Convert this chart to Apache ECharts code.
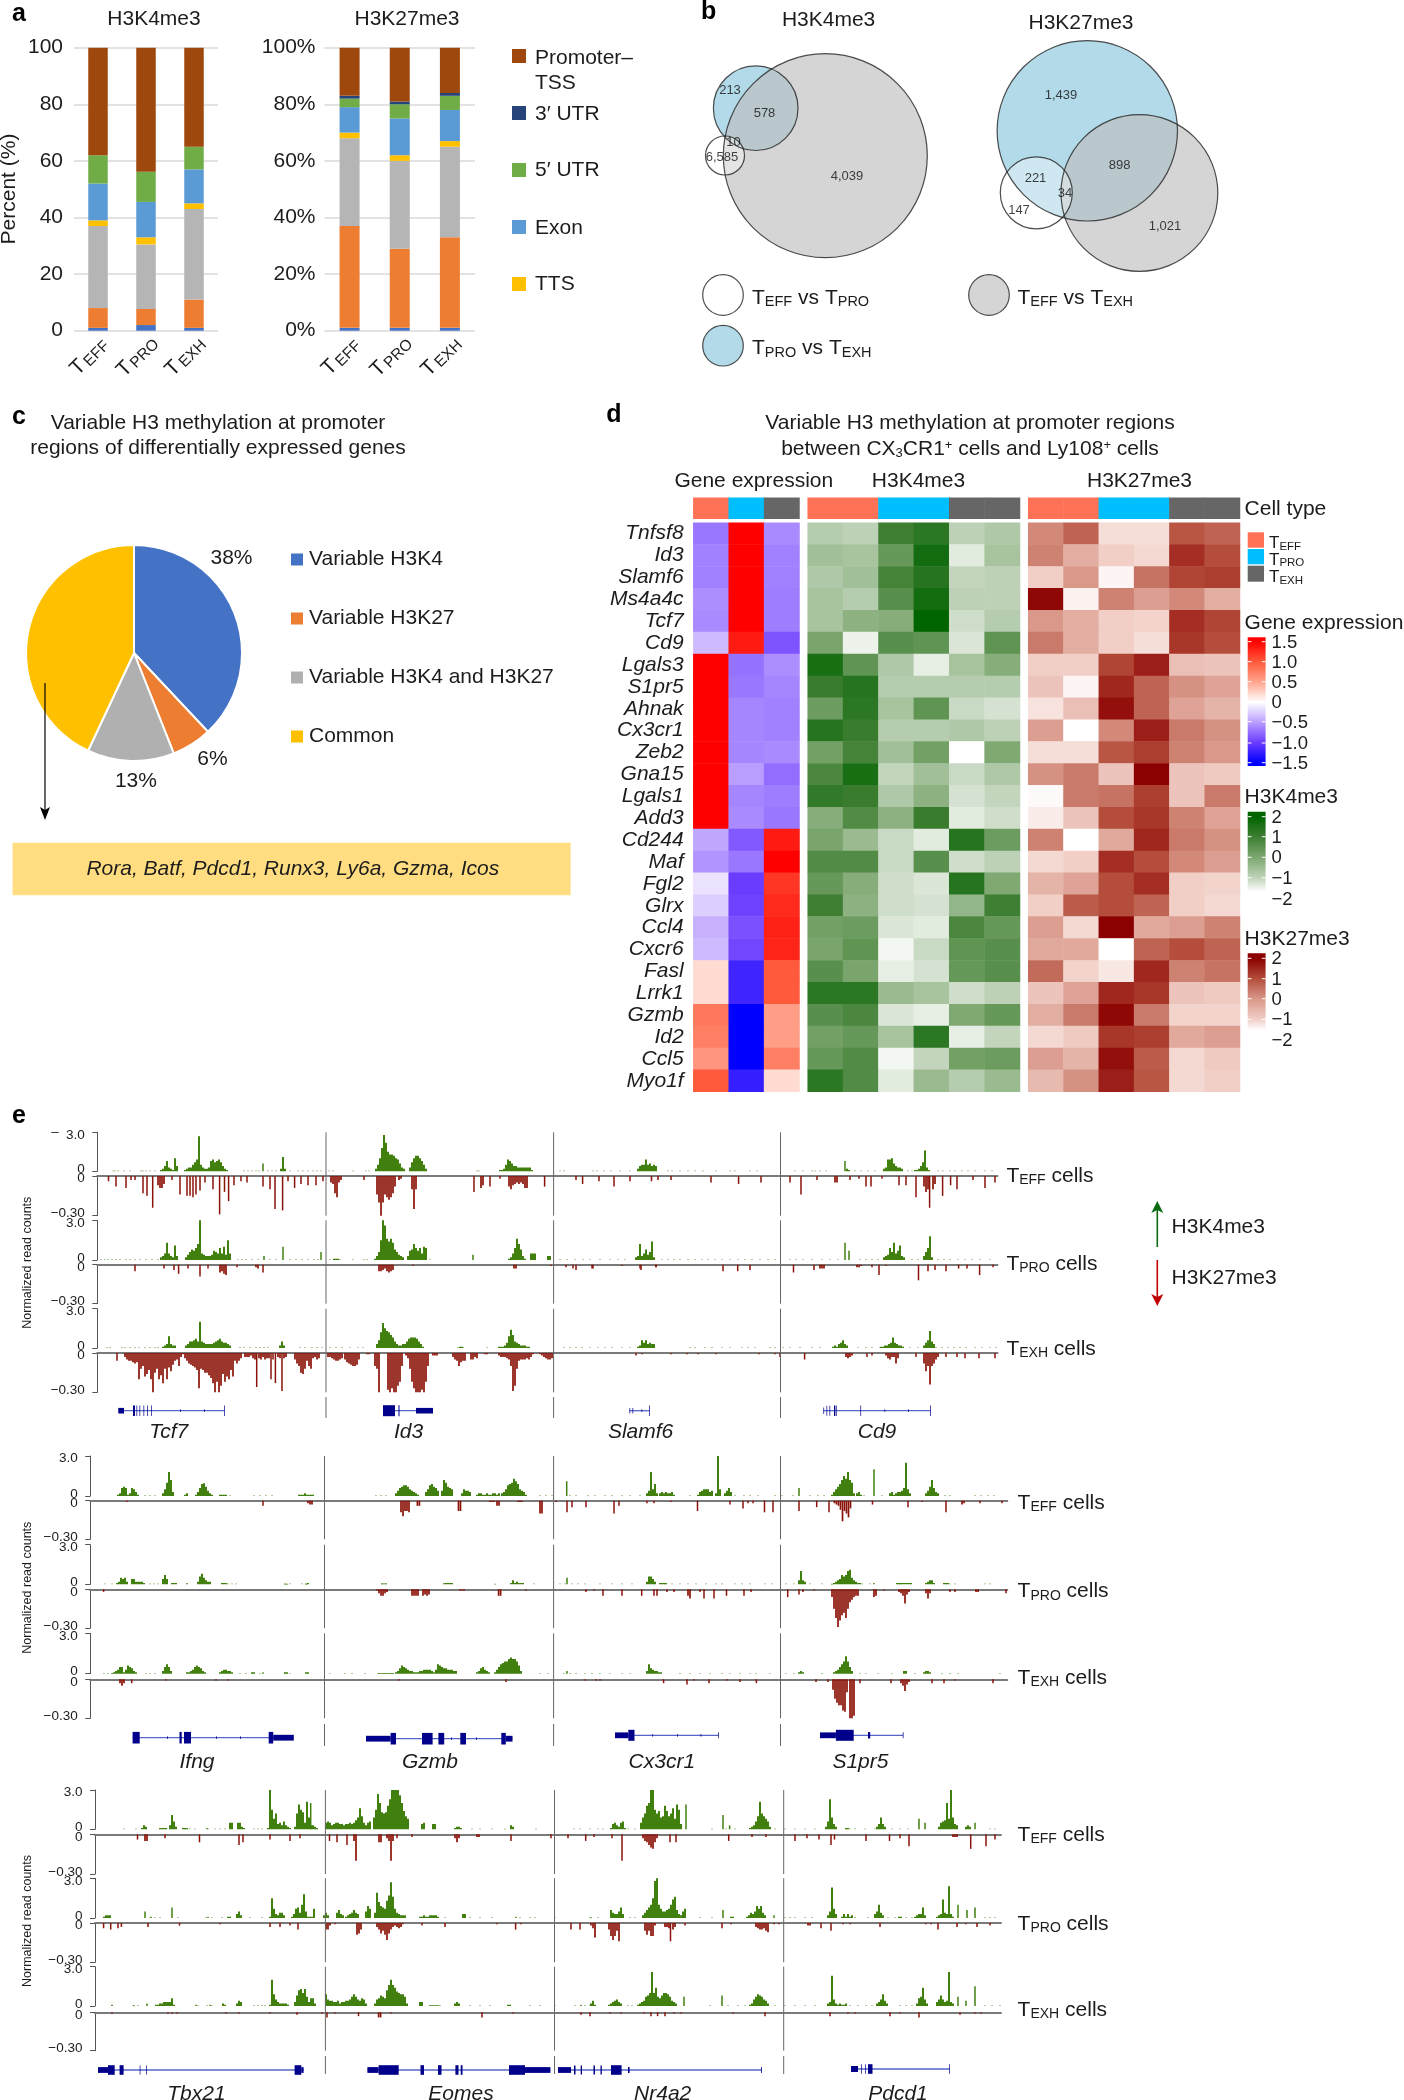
<!DOCTYPE html>
<html><head><meta charset="utf-8">
<style>html,body{margin:0;padding:0;background:#fff}#c{width:1404px;height:2100px}</style>
<script src="https://cdn.jsdelivr.net/npm/echarts@6/dist/echarts.min.js"></script>
</head><body><div id="c"></div>
<script>
// ---------- panel a ----------
const cellCats=['{t|T}{s|EFF}','{t|T}{s|PRO}','{t|T}{s|EXH}'];
const annNames=['Other A','Other B','Other C','TTS','Exon','5′ UTR','3′ UTR','Promoter–TSS'];
const annColors=['#4472C4','#ED7D31','#B5B5B5','#FFC000','#5B9BD5','#70AD47','#264478','#9E480E'];
const k4Other1=[1,2,1], k4Other2=[7,5.7,10], k4Other3=[29,22.8,32], k4Tts=[2,2.5,2], k4Exon=[13,12.5,12], k4Utr5=[10,10.7,8], k4Utr3=[0,0,0], k4Prom=[38,43.8,35];
const k27Other1=[1,1,1], k27Other2=[36,28,32], k27Other3=[31,31,32], k27Tts=[2,2,2], k27Exon=[9,13,11], k27Utr5=[3,5,5], k27Utr3=[1,1,1], k27Prom=[17,19,16];
const annLegend=[['Promoter–\nTSS','#9E480E'],['3′ UTR','#264478'],['5′ UTR','#70AD47'],['Exon','#5B9BD5'],['TTS','#FFC000']];
// ---------- panel b ----------
const vennBlue=[[755.7,108.2,42.3],[1087.3,130.8,90.2],[723,345.7,20.3]];
const vennGrey=[[825.3,155.7,102],[1139.4,193,78.4],[989,295,20.3]];
const vennWhite=[[725,155.5,19.5],[1036.3,192.8,36],[723,295,20.3]];
const vennCounts=[[730,90,'213'],[764.5,113.7,'578'],[733.5,142.7,'10'],[722,157.3,'6,585'],[847,176.7,'4,039'],[1061,95.7,'1,439'],[1119.6,165.3,'898'],[1035.5,178,'221'],[1065,193.3,'34'],[1019,210,'147'],[1165,226.3,'1,021']];
// ---------- panel c ----------
const pieNames=['Variable H3K4','Variable H3K27','Variable H3K4 and H3K27','Common'];
const pieValues=[38,6,13,43];
const pieColors=['#4472C4','#ED7D31','#B0B0B0','#FFC000'];
const commonGenes='Rora, Batf, Pdcd1, Runx3, Ly6a, Gzma, Icos';
// ---------- panel d ----------
const geneRows=['Tnfsf8','Id3','Slamf6','Ms4a4c','Tcf7','Cd9','Lgals3','S1pr5','Ahnak','Cx3cr1','Zeb2','Gna15','Lgals1','Add3','Cd244','Maf','Fgl2','Glrx','Ccl4','Cxcr6','Fasl','Lrrk1','Gzmb','Id2','Ccl5','Myo1f'];
const exprMatrix=[[-.7,1.5,-.6],[-.65,1.5,-.65],[-.65,1.5,-.65],[-.58,1.5,-.67],[-.6,1.5,-.67],[-.35,1.35,-.88],[1.5,-.72,-.58],[1.5,-.7,-.62],[1.5,-.62,-.65],[1.5,-.62,-.65],[1.5,-.62,-.6],[1.5,-.5,-.75],[1.5,-.62,-.67],[1.5,-.6,-.7],[-.45,-.85,1.35],[-.55,-.7,1.5],[-.15,-1,1.2],[-.25,-.97,1.27],[-.4,-.9,1.32],[-.35,-.95,1.3],[.2,-1.2,1],[.2,-1.2,1],[.8,-1.5,.55],[.75,-1.5,.55],[.6,-1.5,.75],[1,-1.25,.2]];
const k4Matrix=[[-.8,-.9,1,1.3,-.9,-.7],[-.5,-.6,.4,1.7,-1.5,-.6],[-.7,-.5,.9,1.4,-1,-.9],[-.6,-.8,.6,1.7,-.9,-.9],[-.6,-.2,-.1,2,-1.2,-.8],[.1,-1.7,.6,.5,-1.4,.5],[1.6,.5,-.7,-1.6,-.6,-.1],[1.1,1.4,-.8,-.8,-.8,-.8],[.3,1.3,-.6,.5,-1.1,-1.3],[1.4,1.1,-.8,-.8,-.7,-.9],[.2,.9,-.5,.2,-2,0],[.8,1.6,-1,-.5,-1.1,-.7],[1.2,1.1,-.7,-.2,-1.3,-1],[-.1,.7,-.2,1.1,-1.5,-1.2],[.1,-.4,-1.1,-1.5,1.4,.3],[.7,.7,-1.1,.6,-1.2,-.9],[.4,-.1,-1.2,-1.4,1.4,0],[1,-.2,-1.2,-1.3,-.3,1],[.2,.3,-1.4,-1.5,.8,.4],[.1,.5,-1.8,-1.1,.5,.6],[.6,.1,-1.6,-1.3,.4,.6],[1.3,1.3,-.4,-.6,-1.2,-.9],[.6,.8,-1.4,-1.6,0,.4],[.2,.4,-.6,1.3,-1.6,-1],[.4,.7,-1.8,-1,.2,.3],[1.3,.7,-1.5,-.4,-.8,-.4]];
const k27Matrix=[[.2,.7,-1.3,-1.3,.9,.7],[.3,-.4,-1,-1.2,1.4,1],[-1,0,-1.8,.5,1.1,1.2],[1.9,-1.7,.3,-.1,.2,-.4],[0,-.4,-1,-1.1,1.4,1.1],[.4,-.4,-1,-1.3,1.3,1],[-1,-1,1.1,1.6,-.7,-.8],[-.8,-1.8,1.5,.7,.1,-.2],[-1.4,-.7,1.8,.7,-.2,-.5],[-.1,-2,.2,1.6,.4,.1],[-1.3,-1.3,.9,1.2,.3,0],[.1,.4,-.8,2,-.8,-.9],[-1.9,.4,.5,1.2,-.8,.4],[-1.6,-.8,1,1.3,.3,-.2],[.3,-2,-.3,1.5,.4,.1],[-1.2,-1,1.4,1,.2,-.1],[-.5,-.2,1,1.4,-1,-1.1],[-1,.8,1,.7,-1,-1.2],[-.1,-1.2,2,-.3,-.1,.3],[-.3,-.3,-2,.7,1,.7],[.6,-1.1,-1.5,1.5,.3,.5],[-.8,-.2,1.5,1.3,-.8,-.9],[-.4,.4,1.9,.4,-1.1,-1.1],[-1.2,-.9,1.3,1.2,-.3,-.1],[-.1,-.5,1.8,.8,-1.2,-.9],[-.6,.1,1.6,.9,-1.2,-1]];
const cellAnno3=[0,1,2], cellAnno6=[0,0,1,1,2,2];
const cellTypeColors=['#FF7256','#00BFFF','#666666'];
const geRamp=['#0000ff','#6a3cff','#b99eff','#ffffff','#ffa48e','#ff5a3c','#ff0000'];
const k4Ramp=['#ffffff','#c3d6bd','#7fa872','#3f7f33','#006400'];
const k27Ramp=['#ffffff','#f1cfc7','#d9988a','#b44d3b','#8b0000'];
const geTicks=['1.5','1.0','0.5','0','−0.5','−1.0','−1.5'];
const k4Ticks=['2','1','0','−1','−2'];
const k27Ticks=['2','1','0','−1','−2'];
// ---------- panel e: each run is [start position, value, value, ...] ----------
const b1EffK4=[[161,.1,.2,.4,.8,.3,.2,.1],[175,1,.4],[185,.1,.2,.3,.3,.5,.7,.9,2.7,.5,.3,.2,.2,.3,.8,.9,.7,.8,.9,.7,.4,.2,.1],[263,.6],[281,.2,1.1,.2],[376,.2,.5,1,1.8,2.8,2.2,1.5,1.3,1.3,1.2,1,.9,.6,.3,.2],[410,.3,.7,1,1.2,1.2,1,.8,.5,.2],[500,.1,.1,.2,.5,.9,.8,.6,.4,.4,.3,.3,.3,.3,.3,.3,.3,.1],[638,.2,.4,.5,.5,.9,.5,.6,.4,.5,.4],[845,.8],[847,.2,.1],[884,.2,.3,.9,.9,1,.6,.4,.3,.3,.2],[915,.1,.1,.2,.4,.7,1.6,.3,.1]];
const b1EffK27=[[108.5,-.04],[116,-.08],[126,-.09],[131,-.03],[135,-.03],[143,-.13],[147,-.15],[152.7,-.24],[158,-.07,-.09,-.09,-.06],[172,-.03],[180,-.14],[187,-.15],[190,-.15],[193,-.16],[196,-.14],[200,-.11],[205,-.05],[213,-.1],[219.6,-.29],[224.5,-.12],[228.6,-.19],[234,-.07],[241,-.04],[247,-.05],[263,-.08],[270,-.1],[275,-.25],[282.6,-.26],[288,-.04],[294.6,-.09],[301,-.06],[308,-.07],[316,-.07],[323,-.04],[331,-.05,-.06,-.13,-.16,-.05,-.03],[364,-.03],[377,-.14,-.2,-.3,-.2,-.14,-.16,-.18,-.16,-.13,-.08],[399,-.03,-.02],[412,-.1,-.25,-.1],[474,-.12],[481,-.09,-.07],[490,-.08],[500,-.02],[509,-.08,-.1,-.07,-.06,-.05,-.06,-.05,-.06,-.09,-.09],[544.6,-.08],[576,-.03],[582.6,-.06],[599,-.04],[614,-.08],[630,-.04],[651.5,-.04],[658,-.03],[671,-.03],[711,-.05],[738.6,-.06],[761,-.05],[790,-.05],[801,-.14],[817,-.03],[835,-.05,-.05],[850,-.03],[859,-.02],[866,-.08],[871,-.08],[882,-.02],[899,-.07],[906,-.07],[916,-.16],[924,-.08,-.12,-.1],[929.6,-.24],[933,-.1,-.06],[942.6,-.15],[950.6,-.07],[957,-.1],[973,-.03],[985,-.09],[995,-.05]];
const b1ProK4=[[161,.2,.3,.5,1.3,.5,.3],[173,.2,1.1,.3],[186,.2,.4,.6,.8,.7,.9,1.2,3,.5,.4,.3,.3,.3,.4,.7,.6,.5,.9,.5,1,.4,1.5,.5],[264,.3],[283,1],[321,.6],[334,.1,.1,.1],[375,.1,.3,.6,1.5,3,2.6,1.6,1.4,1.6,1.3,.8,.6,.4,.3,.2],[408,.3,.7,.8,1.2,.9,.7,.9,.5,1,.9],[473,.4],[509,.1,.2,.5,.9,1.6,1.2,.8,.3,.1],[531,.5,.5,.5],[548,.3,.3],[636,.2,.3,1.2,.3,.5,.8,.4,.6,1.4,.2],[845,1.3],[849,.7],[884,.2,.3,.4,.9,.6,1.3,.5,.7,1.1,.3,.2],[924,.3,.6,.9,1.8,.2]];
const b1ProK27=[[135,-.05],[164,-.03],[174,-.04],[178.6,-.07],[188,-.03],[200,-.09],[208,-.03],[220,-.06,-.05,-.07,-.08],[237,-.02],[256,-.02,-.03],[263,-.06],[379,-.05,-.05,-.04,-.03,-.05,-.06,-.05,-.04],[413,-.01],[514,-.03,-.03],[551,-.01],[566,-.02],[576,-.04],[593,-.03],[622,-.01],[641,-.04],[656,-.02],[573,-.03],[592,-.03],[640,-.03],[656,-.02],[723,-.05],[737.7,-.05],[750,-.04],[793.5,-.06],[814,-.04],[820,-.03,-.03,-.03],[857,-.02,-.02,-.01],[872,-.02],[879,-.08],[886,-.01],[918.5,-.12],[928,-.05],[935,-.04],[946,-.05],[958.6,-.03],[967,-.03],[979.6,-.08],[993,-.02]];
const b1ExhK4=[[163,.1,.2,.3,.9,.3,.2,.2],[186,.2,.3,.5,.5,.6,.7,.5,2,.5,.4,.3,.3,.3,.3,.4,.5,.6,.7,.5,.4,.4,.3,.2],[280,.2,.5,.2],[377,.3,.6,1.2,1.9,1.5,1.3,1.2,1,.8,.5,.3,.2,.2,.3,.3,.5,.7,.8,.8,.8,.7,.5,.3,.1],[460,.1,.1],[499,.1,.1,.1,.2,.4,.9,1.4,1,.5,.4,.3,.2,.2,.2,.1,.1],[638,.1,.2,.6,.4,.6,.3,.4,.3,.3],[833,.1,.2,.1,.3,.4,.6,.3,.2],[881,.1,.1,.2,.2,.3,.4,.8,.4,.3,.2,.2,.1],[924,.2,.4,.6,1.3,.5,.3]];
const b1ExhK27=[[117,-.06],[125,-.03,-.05,-.06,-.06,-.07,-.08,-.07,-.2,-.12,-.1,-.18,-.16,-.13,-.2,-.3,-.15,-.12,-.2,-.17,-.23,-.12,-.2,-.11,-.14,-.09,-.06,-.05,-.1,-.03,-.01,-.04,-.06,-.08,-.09,-.1,-.11,-.13,-.27,-.12,-.13,-.15,-.15,-.17,-.19,-.23,-.3,-.22,-.3,-.25,-.16,-.22,-.18,-.2,-.13,-.18,-.06,-.08,-.06,-.04],[245,-.03,-.03,-.03,-.02,-.04,-.05],[256.7,-.26],[259,-.04,-.05,-.03,-.05,-.04,-.04],[271,-.2],[273,-.05],[275.4,-.23],[278,-.03,-.04],[282,-.29],[284,-.04,-.03],[295,-.05,-.08,-.1,-.15,-.16,-.12,-.06,-.1,-.12,-.04,-.03,-.05,-.04],[328,-.03,-.03,-.04,-.05,-.06,-.06,-.05,-.04],[345,-.05,-.07,-.08,-.09,-.1,-.1,-.09,-.05],[367,-.01,-.01],[375,-.1,-.12,-.3],[388,-.28,-.3,-.27,-.3,-.3,-.25,-.22,-.1],[406,-.02,-.04,-.12,-.22,-.27,-.3,-.3,-.3,-.28,-.3,-.22,-.1],[433,-.02,-.02,-.02],[453,-.03,-.05,-.06,-.1,-.07,-.06,-.06],[471,-.05,-.05,-.03,-.04],[485,-.01,-.01],[499,-.02,-.03,-.03,-.03,-.04,-.05,-.1,-.29,-.25,-.12,-.06,-.05,-.05,-.05,-.04,-.05,-.03,-.01],[540,-.01,-.02,-.03,-.04,-.05,-.05,-.04],[636,-.02],[642,-.01],[671,-.01],[687,-.01],[698,-.01],[716,-.01],[759,-.01],[775,-.01],[780,-.03],[804.6,-.05],[846,-.03,-.04,-.03,-.02],[867,-.03],[872,-.02],[886,-.02,-.04,-.05,-.03,-.03,-.08,-.04],[916,-.03],[924,-.08,-.14,-.1,-.24,-.1,-.08,-.05,-.03],[946,-.03],[957,-.03],[965,-.04],[979,-.04],[995,-.04]];
const b2EffK4=[[118,.1,.2,.6,.7,.6,.1,.2,.6,.5,.3,.1],[163,.2,.5,1,1.8,1.2,.3],[185,.1,.2],[196,.1,.3,.6,.9,.95,.7,.4,.2,.1],[220,.1,.1,.1,.1],[299,.1,.1,.1,.2,.1,.1,.1,.1],[396,.2,.4,.6,.7,.8,.8,.7,.5,.4,.3,.2,.1],[426,.3,.5,.8,.9,.7,.6,.4],[442,.4,1.2,1,.7,.6,.5],[462,.2,.5,.4,.4,.3],[477,.1,.2,.2,.1,.1,.2,.1,.1,.2,.2,.1,.2],[502,.2,.3,.5,.8,.9,1,1.3,1.1,.9,.5,.4,.3,.1],[566.7,1.1],[647,.2,.4,1.8,.5,.9,.2],[660,.2,.3,.2,.3,.2,.2,.3,.1],[698,.1,.3,.4,.5,.5,.5,.3,.4],[716,.2,3,.5],[725,.2,.4,.6,.3],[799,.6],[832,.1,.3,.5,.7,.9,1.2,1.5,1.3,1.8,1.2,1,.2],[857,.2,.3,.1],[874,2],[890,.2,.3,.1,.2,.3,.3,.4,.6,2.5,.5,.2],[926,.2,.4,.7,1.2,.6,.3,.2]];
const b2EffK27=[[127,-.01],[263,-.04],[308,-.02,-.03,-.03],[401,-.09,-.12,-.08,-.08,-.09],[417.4,-.04,-.04],[458.5,-.08,-.08],[490,-.01,-.01,-.01],[497,-.04,-.04],[518,-.01,-.01,-.01],[540,-.1,-.1],[556,-.01],[567,-.09],[572,-.05],[586,-.05],[614,-.1],[619,-.04],[647,-.02],[654,-.02],[671,-.01],[697.5,-.08],[730,-.03],[743,-.06],[748,-.02],[753,-.02],[764.5,-.09],[773,-.09],[799,-.08],[816.7,-.05],[829,-.09],[834.5,-.02,-.03,-.04,-.07,-.16,-.08,-.1,-.13,-.06],[872.5,-.03],[908,-.05],[922,-.01],[946,-.09],[962,-.03,-.02],[980,-.02],[1002,-.02]];
const b2ProK4=[[117,.1,.2,.5,.4,.5,.2],[132,.4,.4,.2,.2,.2,.2,.1],[163,.4,.7,.4],[172,.1,.1,.1],[187,.1],[198,.2,.6,.8,.5,.3,.2,.2],[222,.1,.1,.1],[285,.05,.05],[306,.05,.1],[382,.06,.06,.06],[444,.08,.1,.1,.1,.1],[495,.05],[511,.1,.3,.1,.2,.1,.1,.1],[567,.5],[647,.2,.6,.6,.4,.2],[660,.1,.1,.1,.1],[799,.3,1,.3,.2],[832,.05,.1,.2,.3,.4,.7,.6,.7,1,1.1,.5,.3,.2,.1,.1],[874,.1],[897,.1,.1,.1,.1,.1,.1,.1,.1],[926,.1,.2,.3,.3,.1],[944,.1,.1,.1]];
const b2ProK27=[[103.6,-.02],[377,-.01,-.03,-.05,-.05,-.03,-.02],[412,-.05,-.05,-.05,-.05],[423,-.05,-.04,-.05,-.04],[460,-.01,-.01,-.01],[498.6,-.05,-.05],[526,-.01],[586,-.02],[594,-.01],[603,-.05],[622,-.05],[641.7,-.05],[654,-.05],[657,-.05],[667,-.02],[674,-.02],[688,-.05,-.07],[700,-.02],[704,-.07],[714,-.07],[726.5,-.05],[744,-.05],[751,-.02],[787.7,-.06],[799,-.04],[803,-.02],[814,-.01],[832,-.06,-.15,-.22,-.29,-.24,-.2,-.18,-.22,-.15,-.1,-.08,-.06,-.05,-.05],[874,-.06,-.05],[884,-.01],[899,-.02,-.03,-.05,-.11,-.04,-.02],[926,-.03,-.07,-.03],[950,-.02],[955,-.02],[976,-.02,-.02],[1006,-.03]];
const b2ExhK4=[[112,.05,.1,.2,.3,.5,.5,.1,.3,.6,.5,.4,.2,.1],[163,.2,.5,.7,.5,.2],[187,.1,.1,.2,.3,.5,.6,.5,.4,.2,.1],[220,.1,.2,.3,.3,.2,.2,.1],[252,.1,.1],[263,.1],[285,.1,.1],[306,.1,.1],[379,.06,.06,.06,.06,.06,.06,.06,.06],[396,.1,.2,.4,.6,.5,.4,.3,.2,.2,.1,.1,.1,.2,.2,.3,.3,.3,.3,.2,.1,.3,.7,.6,.5,.4,.4,.3,.3,.3,.2,.2],[477,.1,.2,.4,.5,.3,.2,.1],[495,.1,.3,.5,.7,.8,.9,.9,1.1,1.2,1.1,1.1,.9,.6,.2],[567,.2],[647,.2,.7,.4,.3,.2,.2,.1,.1],[799,.1,.2,.1],[834,.1,.2,.3,.5,.7,.9,1.3,.9,.5,.2],[904,.2,.2],[924,.1,.2,.2,.1]];
const b2ExhK27=[[120,-.03,-.05,-.03],[131.7,-.03],[166,-.01],[216,-.01],[228,-.01],[399,-.01],[506,-.02],[585,-.01],[596,-.01],[600,-.01],[663.6,-.03],[687,-.04],[694,-.01],[709,-.03],[727,-.01],[740,-.02],[756.4,-.03],[816,-.02],[828,-.02],[833,-.08,-.15,-.18,-.2,-.2,-.24,-.25,-.1],[850,-.3,-.3,-.28],[860,-.03],[891,-.03],[901,-.03,-.05,-.09,-.04,-.02],[932,-.03],[944,-.03],[955,-.01],[993,-.03]];
const b3EffK4=[[142,.1,.3,.2],[160,.1,.1,.1,.1],[170,.3,1.1,.6,.2],[183,.1,.1,.1],[207,.1],[230,.5,.5],[238,.5,.5,.2,.1],[268,.1,3,1.5,.8,1.2,.4,.5,.3,.6,.3,.2,.1],[295,.2,1.2,1.9,1.5,1.3,.5,2.1,.9,.3,.3,.2,.1],[310.7,2],[326,.5,.6,.5,.3,.4,.5,.5,.4,.4,.3,.4,.4,.5,.4,.5,.7,.9,1.6,1,.5,.3,.5,.6],[374,.9,1.5,2.7,2,1.3,1.2,1.3,1.8,2.3,3,3,3,3,2.6,2,1.4,1,.8],[422,.4,.5],[433,.4,.4],[455,.1,.2,.2,.1],[511,.3,.2],[611,.1,.4,.5,.3,.2,.5,.6,.1],[641,.5,.9,1.2,1.8,2,3,3,1.5,1.2,1.4,.9,1,1.8,1.4,1,1.2,1.6,.8,1.9,1.5,.4],[686,1.9],[723,1.1],[729.6,.3],[750,.1,.2,.3,.6,1,2.1,1.2,1,.8,.6,.2],[826,.2,.6,2.3,.9,.4,.2],[846,.1,.1],[877,.2,.4,.9,.4,.2],[919,.8],[925,.5],[939,.2,.5,.6,.7,2,.8,3,.9,.4,.3],[966,.2,.3,.2],[975,.5]];
const b3EffK27=[[137.5,-.04],[145,-.05,-.05],[165,-.03],[199.5,-.06],[239,-.08],[243,-.06],[270,-.04],[290,-.05],[300,-.03],[329.5,-.05],[337,-.06],[347,-.08],[354,-.05,-.2],[379,-.06,-.06],[387,-.03,-.05,-.2,-.05],[397,-.03],[412,-.02],[455,-.03,-.06,-.03],[477,-.02,-.02],[511,-.05],[551,-.03],[568,-.03],[585.7,-.05],[594,-.02],[612,-.03],[622,-.2],[643,-.03,-.05,-.06,-.08,-.1,-.11,-.06,-.03],[670,-.06],[676,-.06],[728.7,-.05],[752,-.02],[766,-.02],[795,-.05],[807,-.03],[819,-.04],[831,-.08],[834.5,-.04],[866,-.05],[889.5,-.05],[900,-.03],[909,-.09],[953,-.02,-.02,-.02],[970.7,-.11],[986,-.09],[995,-.04]];
const b3ProK4=[[104,.1,.2,.2,.2],[145,.5],[151,.1],[172,.8],[208,.1],[228,.1,.1],[237,.3,.5,.2],[270,.1,1.5,.7,.3,.2,.4,.4,.2],[292,.1,.3,.7,.8,.4,1,1.8,.5,.1,.1,.1,.7],[324,.2,.4,.2],[337,.4,.6,.3,.2],[346,.1,.2,.3,.4,.6,.4,.3],[366,.5,.9,.7],[375,.4,1.9,1.2,.9,.8,.7,1.3,1.7,2.7,1.6,.7,.4,.3,.2,.2,.2],[420,.1,.1,.2,.1,.1,.2,.2,.2,.2,.1],[463,.3,.3],[516,.1],[591,.05],[611,.6,.4,.3,.3,.5,.8,.3],[643,.2,.4,.6,.8,1,1.5,2.8,3,1,.7,.5,.5,.6,.7,1,1.4,1.6,.6,.3,.2,.5,.7],[723,.6],[731,.1,.1],[747,.1,.2,.4,.3,.5,.9,.7,.9,.4,.2],[774,.2],[828,.2,.5,2.3,.7,.3],[842,.1,.3,.1,.3,.1,.2],[875,.3,.5,1,.4,.2],[899,.1,.1],[915,.1,.2,.3,.3,.8,.2],[937,.1,.2,.3,1.4,.4,.3,2.4,.3,.1],[958,1],[967,.6],[975,.8]];
const b3ProK27=[[103.6,-.04],[110.7,-.05],[118,-.04],[121.4,-.03],[148,-.03],[179.5,-.02],[220,-.01],[270,-.03],[280,-.03],[290,-.02],[298,-.05],[326,-.05,-.05,-.02],[335,-.01],[357,-.09,-.08,-.05],[377,-.03,-.05,-.08,-.06,-.09,-.13,-.08,-.05,-.03,-.02,-.03,-.04,-.03,-.01],[422,-.02],[445,-.03],[497,-.01],[515.6,-.05],[521,-.01],[571,-.05],[580,-.05],[591,-.02,-.04,-.11],[609,-.05,-.1,-.13,-.1,-.06,-.14],[645,-.06,-.09,-.06,-.1,-.1,-.02],[665,-.03,-.03,-.04],[670.5,-.14],[673,-.05,-.03],[685,-.02],[722,-.04],[731,-.01],[756,-.03,-.04,-.05,-.05,-.04,-.06,-.07],[774,-.01],[779,-.01],[808,-.02,-.02],[821,-.04],[831,-.06],[843,-.01],[850,-.01],[880,-.03],[926,-.01],[931,-.01],[938,-.05],[957,-.03],[966,-.01],[977,-.03],[990,-.02]];
const b3ExhK4=[[112,.1],[134,.05],[147,.2],[156,.1,.1,.2,.2,.3,.3,.3,.3,.6,.1],[196,.1],[210,.1],[223,.2,.1],[237,.2,.4,.3],[270,.1,2,.9,.5,.3,.2,.2,.2,.2,.1],[295,.3,.8,1.2,1.3,1,1.3,.7,.3,.6,.6,.2],[326,.9,.5,.4,.4,.3,.3,.4,.2,.3,.3,.4,.4,.5,.7,.9,.7,.5,.4,.6,.5,.2],[375,.2,.5,.6,.8,.7,.6,1.2,1.6,2,1.6,1.4,1.1,1,.9,.9,.7,.2],[420,.3,.3],[430,.06,.06,.06,.06,.06],[455,.2,.3,.2],[508,.1,.1],[581,.1],[591,.2,.4,.1],[609,.1,.2,.3,.4,.5,.3,.2],[638,.1,.2,.3,.4,.7,.8,1,2.6,1,1.4,.7,.6,.8,1,1,.9,.7,.4,.3,.2],[684,.7],[722,.8],[750,.1,.2,.5,.7,.9,.8,.7,.5,.4,.2],[828,.2,.3,2.3,.5,.2],[838,.1,.2,.1,.1,.2],[877,.2,.3,.5,.9,.4,.2],[917,.2,.6,.7,1.4,.5,.2],[937,.3,.5,.8,.5,.3,.4,2.6,.3,.2],[958,.7],[966,.4],[975,1.5]];
const b3ExhK27=[[112,-.01],[168,-.01],[172,-.01],[177,-.01],[226,-.01],[239,-.01],[270,-.01],[297,-.02],[322,-.01],[327,-.04],[335,-.01],[358.5,-.03],[378.6,-.04,-.04],[391,-.01],[482,-.04],[513,-.01],[581,-.02],[590,-.03],[610,-.01],[621,-.01],[644,-.01],[651,-.03],[657.6,-.03],[665,-.03],[674,-.01],[681,-.01],[733,-.01],[765,-.03],[830,-.03],[848,-.01],[855,-.01],[890,-.03],[900,-.01],[919,-.04],[960,-.02],[975,-.01],[981,-.01]];
// low level background reads of the H3K4me3 tracks, one position per speck
const specksB1=[[113,115,118,124,130,141,143,146,150,155,244,248,252,256,259,268,272,276,290,298,303,308,313,317,321,329,333,353,366,369,477,479,560,564,593,597,604,611,620,630,668,672,680,688,695,703,716,730,735,750,757,795,803,812,815,820,826,855,861,868,875,908,912,938,943,950,955,962,968,975,985,992],
[101,105,108,112,116,120,126,130,135,140,146,152,158,238,242,246,252,258,270,276,290,296,302,308,314,318,330,335,340,353,364,367,430,560,567,575,583,590,600,610,618,625,662,668,674,680,688,695,702,708,715,722,730,738,745,752,760,768,775,790,796,803,812,822,830,838,860,866,872,878,912,918,938,944,950,958,965,972,980,990],
[107,110,122,125,130,135,139,145,150,155,158,240,244,250,256,260,264,268,300,305,312,317,322,330,336,342,350,358,363,458,463,487,564,570,576,582,590,598,605,612,622,630,690,695,705,712,722,730,742,748,755,770,775,783,790,800,812,820,858,866,872,880,910,918,936,942,948,954,960,966,975,982,990,996]];
const specksB2=[[145,150,155,225,230,254,260,266,272,376,381,386,540,546,552,570,576,588,595,605,612,622,630,640,690,700,706,730,735,744,750,758,775,782,793,810,818,824,860,864,882,945,950,975,981,988,994],
[105,112,150,154,158,228,232,236,285,290,302,306,382,386,534,560,565,572,578,585,600,612,622,632,665,672,680,688,696,706,716,722,735,742,750,765,772,786,794,810,822,862,870,900,950,955,985,990],
[104,108,146,150,155,240,246,254,260,285,290,330,345,352,365,378,385,392,540,548,564,570,576,585,592,600,610,622,630,680,690,700,710,722,730,740,750,756,770,786,794,822,860,866,878,892,915,942,950,958,1000]];
const specksB3=[[124,136,146,185,190,195,208,215,220,225,254,258,262,472,480,492,505,536,574,580,590,598,603,628,635,712,726,735,775,785,795,805,815,850,855,865,875,892,900,908,966,990,995],
[108,150,155,160,178,206,212,222,250,262,312,432,445,470,480,492,520,530,535,555,590,598,630,635,700,712,785,790,795,805,812,855,868,888,895,906,912,985,990,995],
[112,133,138,198,207,212,254,258,262,265,330,345,360,440,470,480,490,530,540,555,575,585,590,628,632,710,728,738,745,775,785,795,805,815,850,858,866,872,900,906,912,985,992,1000]];
// gene models: [start, end, row]
const geneLines=[[118.3,224.6,1410.7],[383,433,1410.7],[629.5,649.6,1410.7],[823.4,930.5,1410.7],[132.6,293.8,1737.7],[366,512.5,1738.7],[615,718.5,1735.3],[820,903,1735.3],[98,303.6,2070],[367.4,550.4,2070],[558,761.8,2070],[851,949.7,2069]];
// coding exons and UTR blocks: [start, end, row, half height]
const geneExons=[[118.3,124,1410.7,2.8],[133,135,1410.7,5.3],[136.5,137.2,1410.7,5.3],[139.5,140.2,1410.7,5.3],[143.5,144.2,1410.7,5.3],[147,147.7,1410.7,5.3],[151,151.7,1410.7,5.3],[224,224.7,1410.7,5.3],[180,180.6,1410.7,1.4],[204.3,204.9,1410.7,1.4],
[383,395,1410.7,5.5],[398.5,399.5,1410.7,5.5],[416,433,1410.7,2.8],
[629.5,630.1,1410.7,2.8],[632.5,633.1,1410.7,2.8],[641.5,642.1,1410.7,1.4],[649,649.7,1410.7,5.3],
[823.4,824,1410.7,3.2],[826.5,827.1,1410.7,5],[829.5,830.1,1410.7,5],[834,835,1410.7,5.3],[835.6,836.6,1410.7,5.3],[860.4,861,1410.7,5.3],[884.5,885,1410.7,1.4],[908,908.6,1410.7,1.4],[930,930.6,1410.7,5.3],
[132.6,139.7,1737.7,5.8],[179.5,181.7,1737.7,5.8],[184,191,1737.7,5.8],[268.7,273.2,1737.7,5.8],[273.2,293.8,1737.7,2.9],[167,167.6,1737.7,1.4],[216,216.6,1737.7,1.4],[240,240.6,1737.7,1.4],
[366,390.6,1738.7,2.9],[390.6,396,1738.7,5.8],[422,432.6,1738.7,5.8],[438.4,444.2,1738.7,5.8],[460.3,466,1738.7,5.8],[501.3,505.8,1738.7,5.8],[505.8,512.5,1738.7,2.9],[451,451.6,1738.7,1.4],[476,476.6,1738.7,1.4],
[615,628.3,1735.3,2.9],[628.3,634.5,1735.3,5.5],[652.4,653,1735.3,1.4],[677,677.6,1735.3,1.4],[700.6,701.2,1735.3,1.4],[718,718.6,1735.3,3],
[820,835.9,1735.3,2.9],[835.9,853.7,1735.3,5.5],[868,870.2,1735.3,3.2],[902.8,903.4,1735.3,3],
[98,108,2070,2.9],[108,114.7,2070,4.8],[119.6,123.6,2070,4.8],[139.7,140.3,2070,4.5],[146,146.6,2070,4.5],[294.6,301.3,2070,4.8],[301.3,303.6,2070,2.9],
[367.4,378.6,2070,2.9],[378.6,398.7,2070,4.8],[420.5,424,2070,4.8],[438,441.5,2070,4.8],[455.4,458.5,2070,4.8],[460.7,462.5,2070,4.8],[509,525,2070,4.8],[525,550.4,2070,2.9],
[558,571,2070,2.9],[574,575.5,2070,4.5],[580.7,582,2070,4.5],[593.5,595,2070,4.5],[600.5,601.8,2070,4.5],[611,621.6,2070,4.8],[628,629.6,2070,2.9],[761.2,762,2070,2.9],
[851,858,2069,3],[861,861.7,2069,4.8],[865,865.7,2069,4.8],[868,872.5,2069,4.8],[949,949.7,2069,4.8]];
const cellSuffix=['EFF','PRO','EXH'];
const blockGenes=[[['Tcf7',168.8],['Id3',408.5],['Slamf6',640.6],['Cd9',877]],[['Ifng',197],['Gzmb',430],['Cx3cr1',661.8],['S1pr5',860.4]],[['Tbx21',196.4],['Eomes',461],['Nr4a2',662.7],['Pdcd1',898]]];

// ---------- layout ----------
const FONT='"Liberation Sans",Arial,sans-serif', INK='#1c1c1c', FS=21;
const grids=[],xAxes=[],yAxes=[],series=[],visualMaps=[],gfx=[];
function addGrid(box,xa,ya){const i=grids.length;grids.push(box);xAxes.push(Object.assign({gridIndex:i},xa));yAxes.push(Object.assign({gridIndex:i},ya));return i;}
const richBase={t:{fontSize:FS,fontFamily:FONT,color:INK},s:{fontSize:14,fontFamily:FONT,color:INK,padding:[8,0,0,0]}};
function txt(x,y,text,o={}){gfx.push({type:'text',x,y:y+1,z:100,rotation:o.rot||0,silent:true,style:{text,fontFamily:FONT,fontSize:o.size||FS,fontStyle:o.italic?'italic':'normal',fontWeight:o.bold?'bold':'normal',fill:o.color||INK,align:o.align||'center',verticalAlign:'middle',rich:o.rich,lineHeight:o.lh}});}
function rect(x,y,w,h,fill,z=100){gfx.push({type:'rect',z,silent:true,shape:{x,y,width:w,height:h},style:{fill}});}
function line(x1,y1,x2,y2,stroke,lw=1,z=100){gfx.push({type:'line',z,silent:true,shape:{x1,y1,x2,y2},style:{stroke,lineWidth:lw}});}
function arrowHead(x,y,dir,fill,w=5,h=12){gfx.push({type:'polygon',z:101,silent:true,shape:{points:[[x,y],[x-w,y-dir*h],[x,y-dir*(h-3)],[x+w,y-dir*h]]},style:{fill}});}

// panel labels
[['a',19,13],['b',708.6,11],['c',19,416],['d',614,414],['e',19,1115]].forEach(p=>txt(p[1],p[2],p[0],{bold:true,size:25,color:'#000'}));

// panel a
function stacked(box,bw,fmt,margin,cols){
 const g=addGrid(box,{type:'category',data:cellCats,axisLine:{show:false},axisTick:{show:false},
   axisLabel:{rotate:45,interval:0,margin:17,align:'center',verticalAlign:'middle',padding:[0,25,0,0],rich:{t:{fontSize:FS,fontFamily:FONT,color:INK,padding:[0,2,0,0]},s:{fontSize:15.5,fontFamily:FONT,color:INK,padding:[7,0,0,0]}}}},
  {type:'value',min:0,max:100,interval:20,axisLine:{show:false},axisTick:{show:false},splitLine:{lineStyle:{color:'#E3E3E3',width:2}},
   axisLabel:{formatter:fmt,fontFamily:FONT,fontSize:FS,color:INK,margin,padding:[2,0,0,0]}});
 cols.forEach((d,i)=>series.push({type:'bar',name:annNames[i],stack:'s'+g,xAxisIndex:g,yAxisIndex:g,barWidth:bw,data:d,itemStyle:{color:annColors[i]},silent:true}));
}
stacked({left:74,top:47.7,width:144,height:283},19.5,'{value}',11,[k4Other1,k4Other2,k4Other3,k4Tts,k4Exon,k4Utr5,k4Utr3,k4Prom]);
stacked({left:324.5,top:47.7,width:150.5,height:283},20,'{value}%',9,[k27Other1,k27Other2,k27Other3,k27Tts,k27Exon,k27Utr5,k27Utr3,k27Prom]);
txt(154,18,'H3K4me3');txt(407,18,'H3K27me3');txt(9,188,'Percent (%)',{rot:Math.PI/2});
[[49,69.5],[106,113],[163,169],[220,227],[277,283]].forEach((r,i)=>{rect(512,r[0],14,14,annLegend[i][1]);txt(535,r[1],annLegend[i][0],{align:'left',lh:25});});

// overlay grid for the venn circles and gene models
const ov=addGrid({left:0,top:0,width:1404,height:2100},{type:'value',min:0,max:1404,show:false},{type:'value',min:0,max:2100,inverse:true,show:false});
const vennLayer=(rows,fill)=>({type:'scatter',xAxisIndex:ov,yAxisIndex:ov,silent:true,data:rows,symbolSize:v=>v[2]*2,itemStyle:{color:fill,borderColor:'transparent'}});
series.push(vennLayer(vennBlue,'#A0D1E2'),vennLayer(vennGrey,'rgba(190,190,190,0.8)'),vennLayer(vennWhite,'rgba(255,255,255,0.45)'));
const legendFix={type:'scatter',xAxisIndex:ov,yAxisIndex:ov,silent:true,data:[[723,295,20.3]],symbolSize:40.6,itemStyle:{color:'#fff'}};
series.push(legendFix);
[vennBlue,vennGrey,vennWhite].forEach(rows=>series.push({type:'scatter',xAxisIndex:ov,yAxisIndex:ov,silent:true,data:rows,symbolSize:v=>v[2]*2,itemStyle:{color:'transparent',borderColor:'#222',borderWidth:1.2}}));
series.push({type:'scatter',xAxisIndex:ov,yAxisIndex:ov,silent:true,data:vennCounts,symbolSize:1,itemStyle:{color:'transparent'},label:{show:true,position:'inside',formatter:p=>p.value[2],fontFamily:FONT,fontSize:13,color:'#111'}});
txt(828.6,19,'H3K4me3');txt(1081,22,'H3K27me3');
const bR={t:{fontSize:FS,fontFamily:FONT,color:INK},s:{fontSize:14.5,fontFamily:FONT,color:INK,padding:[8,0,0,0]}};
txt(752,297,'{t|T}{s|EFF}{t| vs T}{s|PRO}',{align:'left',rich:bR});
txt(752,347.7,'{t|T}{s|PRO}{t| vs T}{s|EXH}',{align:'left',rich:bR});
txt(1017.5,297,'{t|T}{s|EFF}{t| vs T}{s|EXH}',{align:'left',rich:bR});

// panel c
txt(218,422.7,'Variable H3 methylation at promoter');txt(218,447.7,'regions of differentially expressed genes');
const pieLabelPos=[[231.5,558],[212.4,759],[135.9,781],[66.6,632]];
series.push({type:'pie',center:[134,653],radius:[0,108],startAngle:90,silent:true,
 data:pieNames.map((n,i)=>({name:n,value:pieValues[i],itemStyle:{color:pieColors[i]}})),
 itemStyle:{borderColor:'#fff',borderWidth:2},labelLine:{show:false},
 label:{show:true,formatter:'{c}%',fontFamily:FONT,fontSize:FS,color:INK},
 labelLayout:p=>({x:pieLabelPos[p.dataIndex][0],y:pieLabelPos[p.dataIndex][1],align:'center',verticalAlign:'middle'})});
line(45,683,45,815,'#000',1.2);arrowHead(45,820,1,'#000',5,13);
rect(12.6,842.7,558,52.6,'#FFDD80');txt(292.8,868.3,commonGenes,{italic:true});

// panel d
txt(970,422.7,'Variable H3 methylation at promoter regions');
txt(970,448.3,'{t|between CX}{b|3}{t|CR1}{p|+}{t| cells and Ly108}{p|+}{t| cells}',{rich:{t:{fontSize:FS,fontFamily:FONT,color:INK},b:{fontSize:13,fontFamily:FONT,color:INK,padding:[8,0,0,0]},p:{fontSize:13,fontFamily:FONT,color:INK,padding:[0,0,8,0]}}});
txt(753.8,480.3,'Gene expression');txt(918.5,480.3,'H3K4me3');txt(1139.5,480.3,'H3K27me3');
txt(1244.6,508,'Cell type',{align:'left'});
function heat(left,width,matrix,ramp,lo,hi,showLabels){
 const nc=matrix[0].length,cats=[...Array(nc).keys()].map(String);
 const g=addGrid({left,top:522.7,width,height:569},{type:'category',data:cats,show:false},
  {type:'category',data:geneRows,inverse:true,axisLine:{show:false},axisTick:{show:false},axisLabel:{show:showLabels,interval:0,margin:9.7,fontFamily:FONT,fontStyle:'italic',fontSize:FS,color:INK,padding:[2,0,0,0]}});
 const data=[];matrix.forEach((r,y)=>r.forEach((v,x)=>data.push([x,y,v])));
 series.push({type:'heatmap',xAxisIndex:g,yAxisIndex:g,data,silent:true,progressive:0});
 visualMaps.push({type:'continuous',show:false,min:lo,max:hi,dimension:2,seriesIndex:series.length-1,inRange:{color:ramp}});
}
function anno(left,width,codes){
 const cats=codes.map((_,i)=>String(i));
 const g=addGrid({left,top:497.7,width,height:21},{type:'category',data:cats,show:false},{type:'category',data:['a'],show:false});
 series.push({type:'heatmap',xAxisIndex:g,yAxisIndex:g,data:codes.map((c,i)=>[i,0,c]),silent:true});
 visualMaps.push({type:'continuous',show:false,min:0,max:2,dimension:2,seriesIndex:series.length-1,inRange:{color:cellTypeColors}});
}
heat(693.3,106.2,exprMatrix,geRamp,-1.5,1.5,true);heat(807.7,212.3,k4Matrix,k4Ramp,-2,2,false);heat(1028.2,211.8,k27Matrix,k27Ramp,-2,2,false);
anno(693.3,106.2,cellAnno3);anno(807.7,212.3,cellAnno6);anno(1028.2,211.8,cellAnno6);
[[532.3,15.4,542.7],[549,15.3,559.3],[565.7,16,576.7]].forEach((r,i)=>{rect(1247.7,r[0],16.3,r[1],cellTypeColors[i]);
 txt(1269,r[2],`{t|T}{s|${cellSuffix[i]}}`,{align:'left',rich:{t:{fontSize:17,fontFamily:FONT,color:INK},s:{fontSize:11.5,fontFamily:FONT,color:INK,padding:[6,0,0,0]}}});});
function colorbar(top,bottom,ramp,ticks,tickYs,title,titleY){
 const stops=ramp.slice().reverse().map((c,i)=>({offset:(tickYs[0]+(tickYs[tickYs.length-1]-tickYs[0])*i/(ramp.length-1)-top)/(bottom-top),color:c}));
 const clean=stops.map(s=>({offset:Math.min(1,Math.max(0,s.offset)),color:s.color}));
 rect(1247.7,top,17.9,bottom-top,new echarts.graphic.LinearGradient(0,0,0,1,clean));
 ticks.forEach((t,i)=>{if(tickYs[i]<bottom){line(1247.7,tickYs[i],1251.5,tickYs[i],'#fff',1,102);line(1261.8,tickYs[i],1265.6,tickYs[i],'#fff',1,102);}
  txt(1271.5,tickYs[i],t,{align:'left',size:18.5});});
 txt(1244.6,titleY,title,{align:'left'});
}
colorbar(637.3,766,geRamp,geTicks,[641.7,661.7,681.7,701.7,721.7,743,762.7],'Gene expression',622.7);
colorbar(811.7,891.7,k4Ramp,k4Ticks,[816.7,836.7,857.3,877.7,899.3],'H3K4me3',796.7);
colorbar(953.3,1030,k27Ramp,k27Ticks,[958.3,978.7,998.7,1019.3,1040],'H3K27me3',938.3);

// panel e
function barRender(color){return (p,api)=>{const a=api.coord([api.value(0),0]),b=api.coord([api.value(0),api.value(1)]),w=api.value(2);
 return {type:'rect',shape:{x:a[0]-w/2,y:Math.min(a[1],b[1]),width:w,height:Math.max(Math.abs(b[1]-a[1]),.8)},style:{fill:color}};};}
function decode(runs,specks,runW){const STEP=2,out=[];runs.forEach(r=>{const n=r.length-1;for(let i=1;i<=n;i++)out.push([r[0]+(i-1)*STEP,r[i],n===1?1.5:runW]);});
 (specks||[]).forEach(x=>out.push([x,.06,1.1]));return out;}
const blocks=[
 {ax:97.3,right:997.5,seps:[326,553.6,780.5],rows:[[1132.3,1171.3,1176,1215.7],[1220.3,1260,1264.7,1303.7],[1308.7,1348,1353,1392.3]],geneSep:[1397,1418],geneY:1430.7,labelX:1006.4,labelY:[1175,1263,1348],nrc:1261.7,
  data:[[b1EffK4,b1EffK27,specksB1[0]],[b1ProK4,b1ProK27,specksB1[1]],[b1ExhK4,b1ExhK27,specksB1[2]]]},
 {ax:90.2,right:1007.3,seps:[324.5,553.6,780.5],rows:[[1456,1496,1500.7,1539.3],[1544.7,1584.3,1589.3,1628.3],[1633.3,1673.7,1679.3,1718.3]],geneSep:[1724,1746],geneY:1761,labelX:1017.6,labelY:[1502,1590.7,1677.3],nrc:1586.7,
  data:[[b2EffK4,b2EffK27,specksB2[0]],[b2ProK4,b2ProK27,specksB2[1]],[b2ExhK4,b2ExhK27,specksB2[2]]]},
 {ax:95,right:1001,seps:[325.4,554.5,783.7],rows:[[1790,1829.3,1834.3,1874],[1878.3,1918,1923,1962.3],[1966.7,2006,2012.3,2050.7]],geneSep:[2056,2074],geneY:2092.7,labelX:1017.6,labelY:[1834.3,1923.3,2009],nrc:1920,
  data:[[b3EffK4,b3EffK27,specksB3[0]],[b3ProK4,b3ProK27,specksB3[1]],[b3ExhK4,b3ExhK27,specksB3[2]]]}];
const axStyle={lineStyle:{color:'#555',width:1}};
const tickRich={fontSize:13.5,fontFamily:FONT,color:INK};
function trackAxisY(min,max,interval,fmt){return {type:'value',min,max,interval,splitLine:{show:false},axisLine:{show:true,...axStyle},axisTick:{show:true,length:5,...axStyle},
 axisLabel:{formatter:fmt,color:INK,margin:12.5,rich:{up:{...tickRich,padding:[0,0,4,0]},dn:{...tickRich,padding:[5,0,0,0]}}}};}
blocks.forEach(b=>{
 b.rows.forEach((r,k)=>{
  const w=b.right-b.ax,xv={type:'value',min:b.ax,max:b.right};
  const gu=addGrid({left:b.ax,top:r[0],width:w,height:r[1]-r[0]},{...xv,show:false},trackAxisY(0,3,3,v=>v===0?'{up|0}':'{dn|3.0}'));
  const gl=addGrid({left:b.ax,top:r[2],width:w,height:r[3]-r[2]},{...xv,position:'top',axisLine:{show:true,onZero:false,lineStyle:{color:'#7a7a7a',width:2}},axisTick:{show:false},axisLabel:{show:false},splitLine:{show:false}},trackAxisY(-.3,0,.3,v=>v===0?'{dn|0}':'{up|−0.30}'));
  series.push({type:'custom',silent:true,xAxisIndex:gu,yAxisIndex:gu,data:decode(b.data[k][0],b.data[k][2],2),renderItem:barRender('#41800F'),encode:{x:0,y:1}});
  series.push({type:'custom',silent:true,xAxisIndex:gl,yAxisIndex:gl,data:decode(b.data[k][1],null,1.7),renderItem:barRender('#8B1208'),encode:{x:0,y:1}});
  b.seps.forEach(x=>line(x,r[0],x,r[3],'#666',1,5));
  txt(b.labelX,b.labelY[k],`{t|T}{s|${cellSuffix[k]}}{t| cells}`,{align:'left',rich:richBase});
 });
 b.seps.forEach(x=>line(x,b.geneSep[0],x,b.geneSep[1],'#666',1,5));
 txt(27.7,b.nrc,'Normalized read counts',{size:12.5,rot:Math.PI/2});
});
blockGenes.forEach((gs,i)=>gs.forEach(g=>txt(g[1],blocks[i].geneY,g[0],{italic:true})));
txt(55,1131,'–',{size:13.5});
series.push({type:'custom',silent:true,xAxisIndex:ov,yAxisIndex:ov,data:geneLines,encode:{x:0,y:2},renderItem:(p,api)=>{const a=api.coord([api.value(0),api.value(2)]),b=api.coord([api.value(1),api.value(2)]);
 return {type:'line',shape:{x1:a[0],y1:a[1],x2:b[0],y2:b[1]},style:{stroke:'#5566C8',lineWidth:1.3}};}});
series.push({type:'custom',silent:true,xAxisIndex:ov,yAxisIndex:ov,data:geneExons,encode:{x:0,y:2},renderItem:(p,api)=>{const a=api.coord([api.value(0),api.value(2)]),b=api.coord([api.value(1),api.value(2)]),h=api.value(3);
 return {type:'rect',shape:{x:a[0],y:a[1]-h,width:Math.max(b[0]-a[0],.7),height:2*h},style:{fill:'#00008B'},z2:2};}});
// direction key
line(1157.3,1247,1157.3,1207,'#0B6B12',1.6);arrowHead(1157.3,1201,-1,'#0B6B12',6,12);
line(1157.3,1260,1157.3,1300,'#C00000',1.6);arrowHead(1157.3,1306,1,'#C00000',6,12);
txt(1171.6,1226.7,'H3K4me3',{align:'left'});txt(1171.6,1277.3,'H3K27me3',{align:'left'});

const chart=echarts.init(document.getElementById('c'),null,{renderer:'canvas',width:1404,height:2100});
chart.setOption({animation:false,backgroundColor:'#fff',textStyle:{fontFamily:FONT},grid:grids,xAxis:xAxes,yAxis:yAxes,series,visualMap:visualMaps,
 legend:[{data:pieNames,orient:'vertical',left:289,top:549,padding:0,icon:'rect',itemWidth:14,itemHeight:14,itemGap:38,selectedMode:false,textStyle:{fontFamily:FONT,fontSize:FS,color:INK}}],
 graphic:{elements:gfx}});
</script></body></html>
